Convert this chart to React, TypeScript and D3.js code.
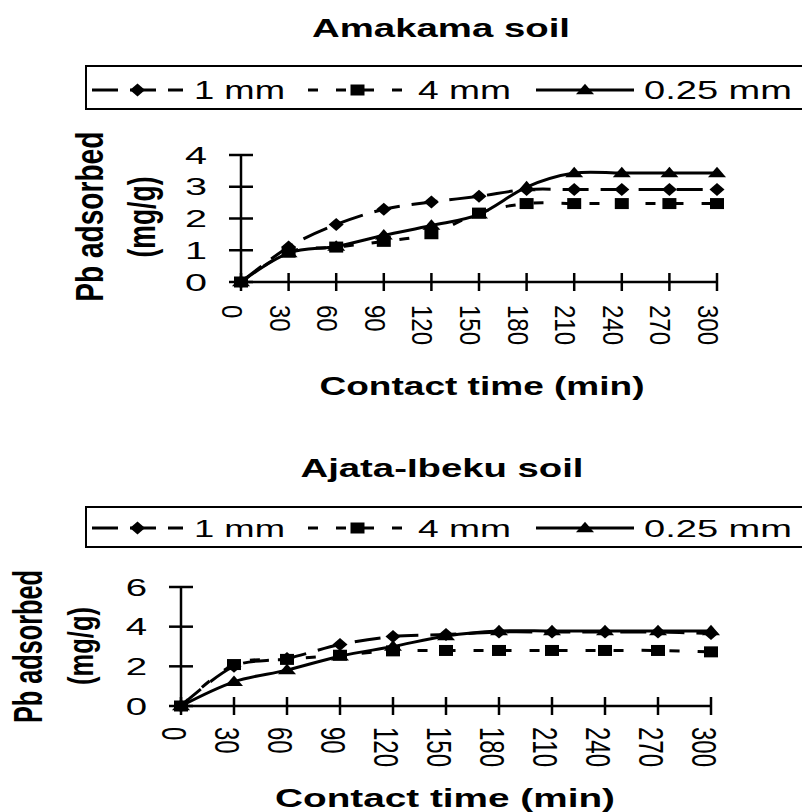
import React from 'react';
import * as d3 from 'd3';

const times = [0, 30, 60, 90, 120, 150, 180, 210, 240, 270, 300];
const xTickLabels = ['0', '30', '60', '90', '120', '150', '180', '210', '240', '270', '300'];
const seriesNames = ['1 mm', '4 mm', '0.25 mm'];

const amakama1mm = [0, 1.1, 1.81, 2.29, 2.52, 2.7, 2.91, 2.91, 2.91, 2.91, 2.91];
const amakama4mm = [0, 0.94, 1.1, 1.28, 1.52, 2.17, 2.47, 2.47, 2.47, 2.47, 2.47];
const amakama025mm = [0, 0.91, 1.12, 1.47, 1.78, 2.13, 2.99, 3.43, 3.43, 3.43, 3.43];

const ajata1mm = [0, 2.0, 2.4, 3.1, 3.5, 3.6, 3.73, 3.73, 3.73, 3.73, 3.65];
const ajata4mm = [0, 2.09, 2.35, 2.56, 2.78, 2.8, 2.8, 2.8, 2.8, 2.8, 2.73];
const ajata025mm = [0, 1.22, 1.81, 2.51, 3.0, 3.53, 3.78, 3.78, 3.78, 3.78, 3.78];

const amakamaYTicks = [0, 1, 2, 3, 4];
const ajataYTicks = [0, 2, 4, 6];

const FONT = "'Liberation Sans', Arial, Helvetica, sans-serif";

type MarkerKind = 'diamond' | 'square' | 'triangle';

function markerPath(kind: MarkerKind, x: number, y: number): string {
  if (kind === 'diamond') {
    const w = 7.5, h = 6.5;
    return `M${x},${y - h}L${x + w},${y}L${x},${y + h}L${x - w},${y}Z`;
  }
  if (kind === 'square') {
    const w = 7, h = 5.5;
    return `M${x - w},${y - h}H${x + w}V${y + h}H${x - w}Z`;
  }
  const w = 9, h = 10.5;
  return `M${x},${y - h * 0.6}L${x + w},${y + h * 0.4}L${x - w},${y + h * 0.4}Z`;
}

const styles: { kind: MarkerKind; dash: string | undefined }[] = [
  { kind: 'diamond', dash: '26,12' },
  { kind: 'square', dash: '10,18' },
  { kind: 'triangle', dash: undefined },
];

function STextH(props: { x: number; y: number; size: number; bold?: boolean; anchor?: string; len?: number; children: React.ReactNode }) {
  const { x, y, size, bold, anchor = 'middle', len, children } = props;
  return (
    <text
      x={x}
      y={y}
      fontSize={size}
      fontFamily={FONT}
      fontWeight={bold ? 'bold' : 'normal'}
      textAnchor={anchor as any}
      textLength={len}
      lengthAdjust={len ? 'spacingAndGlyphs' : undefined}
      fill="#000"
    >
      {children}
    </text>
  );
}

function SText(props: { x: number; y: number; sx: number; rot: number; size: number; bold?: boolean; anchor?: string; len?: number; children: React.ReactNode }) {
  const { x, y, sx, rot, size, bold, anchor = 'middle', len, children } = props;
  return (
    <text
      transform={`translate(${x},${y}) scale(${sx},1) rotate(${rot})`}
      fontSize={size}
      fontFamily={FONT}
      fontWeight={bold ? 'bold' : 'normal'}
      textAnchor={anchor as any}
      textLength={len}
      lengthAdjust={len ? 'spacingAndGlyphs' : undefined}
      fill="#000"
    >
      {children}
    </text>
  );
}

type PanelProps = {
  title: string;
  titleY: number;
  titleX: number;
  titleLen: number;
  series: number[][];
  yTicks: number[];
  yMax: number;
  x0: number;
  x1: number;
  y0: number;
  y1: number;
  legendTop: number;
  legendBottom: number;
  legendLeft: number;
  legendBaseline: number;
  legendLineY: number;
  legendFont: number;
  yLabelRight: number;
  yLabelSx: number;
  xLabelTop: number;
  xLabelOffset: number;
  xLabelSx: number;
  pbX: number;
  pbY: number;
  pbSize: number;
  pbLen: number;
  pbSx: number;
  mgX: number;
  mgY: number;
  mgSize: number;
  mgLen: number;
  mgSx: number;
  ctX: number;
  ctY: number;
  ctLen: number;
};

function Panel(p: PanelProps) {
  const xs = d3.scaleLinear().domain([0, 300]).range([p.x0, p.x1]);
  const ys = d3.scaleLinear().domain([0, p.yMax]).range([p.y0, p.y1]);
  const line = d3
    .line<number>()
    .x((_, i) => xs(times[i]))
    .y((d) => ys(d))
    .curve(d3.curveCardinal.tension(0));

  const drawOrder = [2, 0, 1];

  const legendItems = [
    { lineStart: 92, lineEnd: 183, textStart: 194, textLen: 91 },
    { lineStart: 308, lineEnd: 407, textStart: 418, textLen: 93 },
    { lineStart: 536, lineEnd: 634, textStart: 644, textLen: 148 },
  ];

  return (
    <g>
      <STextH x={p.titleX} y={p.titleY} size={25.5} bold len={p.titleLen}>
        {p.title}
      </STextH>

      <rect
        x={p.legendLeft}
        y={p.legendTop}
        width={900}
        height={p.legendBottom - p.legendTop}
        fill="#fff"
        stroke="#000"
        strokeWidth={2}
      />
      {legendItems.map((it, i) => (
        <g key={i}>
          <line
            x1={it.lineStart}
            x2={it.lineEnd}
            y1={p.legendLineY}
            y2={p.legendLineY}
            stroke="#000"
            strokeWidth={3}
            strokeDasharray={styles[i].dash}
          />
          <path d={markerPath(styles[i].kind, (it.lineStart + it.lineEnd) / 2, p.legendLineY)} fill="#000" />
          <STextH x={it.textStart} y={p.legendBaseline} size={p.legendFont} anchor="start" len={it.textLen}>
            {seriesNames[i]}
          </STextH>
        </g>
      ))}

      <line x1={p.x0} x2={p.x0} y1={p.y0} y2={p.y1} stroke="#000" strokeWidth={2.5} />
      <line x1={p.x0} x2={p.x1} y1={p.y0} y2={p.y0} stroke="#000" strokeWidth={2.5} />
      {p.yTicks.map((t) => (
        <g key={'y' + t}>
          <line x1={p.x0 - 12} x2={p.x0 + 12} y1={ys(t)} y2={ys(t)} stroke="#000" strokeWidth={2.5} />
          <SText x={p.yLabelRight} y={ys(t) + 8.5} sx={p.yLabelSx} rot={0} size={24} anchor="end">
            {String(t)}
          </SText>
        </g>
      ))}
      {times.map((t, i) => (
        <g key={'x' + t}>
          <line x1={xs(t)} x2={xs(t)} y1={p.y0 - 9} y2={p.y0 + 9} stroke="#000" strokeWidth={2.5} />
          <SText x={xs(t) - p.xLabelOffset} y={p.xLabelTop} sx={p.xLabelSx} rot={90} size={24} anchor="start">
            {xTickLabels[i]}
          </SText>
        </g>
      ))}

      {drawOrder.map((si) => (
        <g key={'s' + si}>
          <path
            d={line(p.series[si]) || ''}
            fill="none"
            stroke="#000"
            strokeWidth={3}
            strokeDasharray={styles[si].dash}
          />
          {p.series[si].map((v, i) => (
            <path key={i} d={markerPath(styles[si].kind, xs(times[i]), ys(v))} fill="#000" />
          ))}
        </g>
      ))}

      <SText x={p.pbX} y={p.pbY} sx={p.pbSx} rot={-90} size={p.pbSize} bold len={p.pbLen}>
        Pb adsorbed
      </SText>
      <SText x={p.mgX} y={p.mgY} sx={p.mgSx} rot={-90} size={p.mgSize} bold len={p.mgLen}>
        (mg/g)
      </SText>
      <STextH x={p.ctX} y={p.ctY} size={25} bold len={p.ctLen}>
        Contact time (min)
      </STextH>
    </g>
  );
}

export default function App() {
  return (
    <svg
      width={802}
      height={812}
      viewBox="0 0 802 812"
      style={{ position: 'absolute', left: 0, top: 0, background: '#fff' }}
    >
      <rect x={0} y={0} width={802} height={812} fill="#fff" />
      <Panel
        title="Amakama soil"
        titleX={441}
        titleY={37}
        titleLen={258}
        series={[amakama1mm, amakama4mm, amakama025mm]}
        yTicks={amakamaYTicks}
        yMax={4}
        x0={241}
        x1={717}
        y0={282}
        y1={155}
        legendTop={66}
        legendBottom={109}
        legendLeft={86}
        legendBaseline={99}
        legendLineY={90}
        legendFont={26}
        yLabelRight={207}
        yLabelSx={1.65}
        xLabelTop={305}
        xLabelOffset={19}
        xLabelSx={1.2}
        pbX={103}
        pbY={216.7}
        pbSize={28}
        pbLen={170}
        pbSx={1.4}
        mgX={155}
        mgY={217}
        mgSize={26.5}
        mgLen={81}
        mgSx={1.45}
        ctX={482}
        ctY={395}
        ctLen={325}
      />
      <Panel
        title="Ajata-Ibeku soil"
        titleX={442}
        titleY={477}
        titleLen={283}
        series={[ajata1mm, ajata4mm, ajata025mm]}
        yTicks={ajataYTicks}
        yMax={6}
        x0={181}
        x1={711}
        y0={706}
        y1={587}
        legendTop={507}
        legendBottom={547}
        legendLeft={86}
        legendBaseline={537}
        legendLineY={528}
        legendFont={24}
        yLabelRight={147}
        yLabelSx={1.6}
        xLabelTop={727}
        xLabelOffset={19}
        xLabelSx={1.45}
        pbX={42}
        pbY={646.5}
        pbSize={25.3}
        pbLen={153}
        pbSx={1.6}
        mgX={92.5}
        mgY={646}
        mgSize={25.5}
        mgLen={78}
        mgSx={1.4}
        ctX={445}
        ctY={807}
        ctLen={340}
      />
    </svg>
  );
}
